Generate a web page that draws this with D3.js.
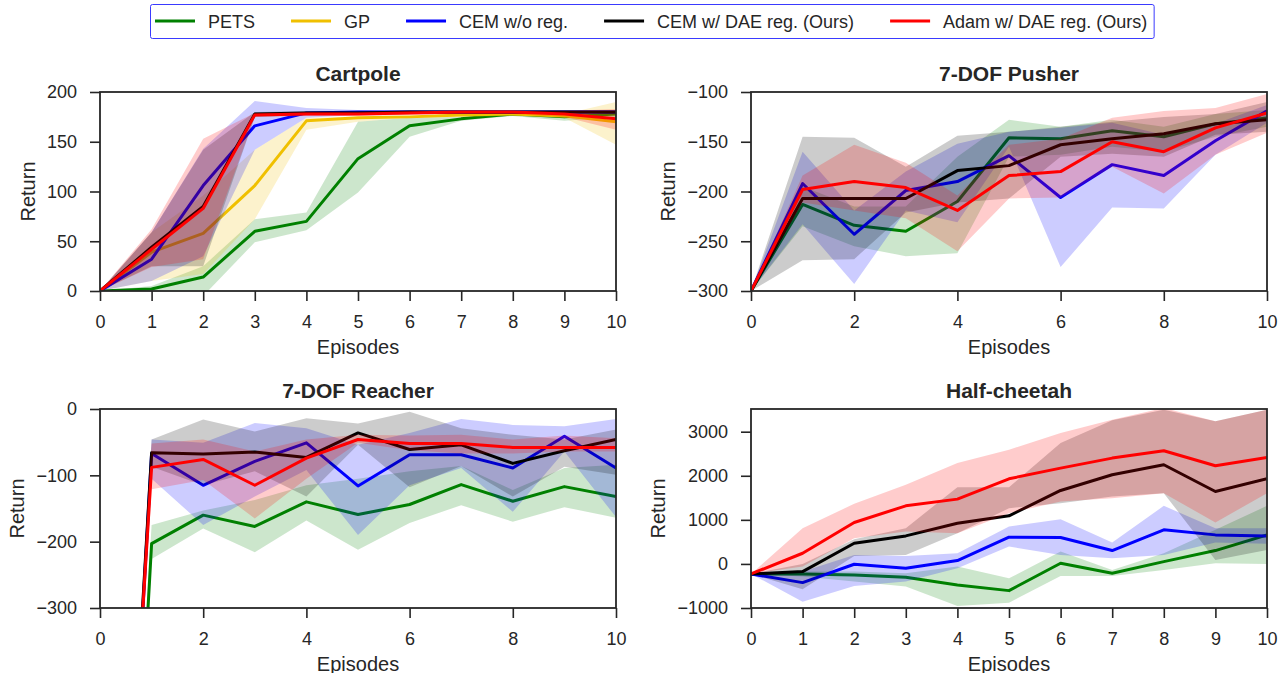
<!DOCTYPE html>
<html>
<head>
<meta charset="utf-8">
<title>Return per episode</title>
<style>
  body { margin: 0; background: #fff; }
  svg text { font-family: "Liberation Sans", Arial, sans-serif; fill: #262626; }
  .spine { fill: none; stroke: #262626; stroke-width: 1.8; }
  .axis path { display: none; }
  .axis line { stroke: #262626; stroke-width: 1.6; }
  .axis text { font-size: 18px; font-family: "Liberation Sans", Arial, sans-serif; fill: #262626; }
</style>
</head>
<body>
<script src="https://d3js.org/d3.v7.min.js"></script>
<script>
// ---- data ----
var episodes = [0, 1, 2, 3, 4, 5, 6, 7, 8, 9, 10];
var methods = ["PETS", "GP", "CEM w/o reg.", "CEM w/ DAE reg. (Ours)", "Adam w/ DAE reg. (Ours)"];
var colors = ["#008000", "#f0c000", "#0000ff", "#000000", "#ff0000"];

var xTicksAll = [0, 1, 2, 3, 4, 5, 6, 7, 8, 9, 10];
var xTicksEven = [0, 2, 4, 6, 8, 10];

// Cartpole (rows follow methods order)
var cartpoleYTicks = [0, 50, 100, 150, 200];
var cartpoleMean = [
  [0, 2, 14, 60, 70, 133, 166, 173, 178, 175, 178],
  [0, 39, 58, 106, 171, 174, 175, 177, 178, 176, 170],
  [0, 32, 106, 166, 179, 180, 180, 180, 180, 180, 180],
  [0, 44, 85, 178, 179, 179, 180, 180, 180, 180, 180],
  [0, 42, 83, 177, 178, 178, 179, 180, 180, 178, 173]
];
var cartpoleLow = [
  [0, -5, -5, 49, 61, 99, 155, 171, 176, 171, 175],
  [0, 10, 17, 72, 162, 170, 174, 175, 176, 174, 147],
  [0, 10, 35, 142, 174, 177, 178, 178, 178, 178, 178],
  [0, 25, 25, 175, 177, 177, 178, 178, 178, 178, 178],
  [0, 24, 32, 175, 176, 176, 177, 178, 178, 175, 162]
];
var cartpoleHigh = [
  [0, 5, 25, 72, 79, 170, 174, 175, 179, 179, 179],
  [0, 59, 96, 142, 174, 175, 176, 178, 179, 178, 190],
  [0, 59, 143, 191, 184, 182, 182, 182, 182, 182, 182],
  [0, 59, 142, 180, 181, 181, 181, 181, 181, 181, 181],
  [0, 62, 153, 179, 180, 180, 181, 181, 181, 181, 183]
];

// 7-DOF Pusher
var pusherYTicks = [-300, -250, -200, -150, -100];
var pusherMean = [
  [-300, -213, -234, -240, -210, -146, -147, -139, -145, -132, -126],
  null,
  [-300, -192, -243, -199, -190, -164, -206, -173, -184, -149, -119],
  [-300, -207, -207, -207, -179, -174, -153, -147, -142, -132, -128],
  [-300, -198, -190, -196, -219, -184, -180, -150, -160, -136, -121]
];
var pusherLow = [
  [-300, -235, -255, -265, -262, -165, -163, -155, -160, -145, -135],
  null,
  [-300, -233, -293, -219, -231, -155, -276, -216, -217, -163, -131],
  [-300, -269, -268, -221, -211, -207, -165, -162, -165, -143, -140],
  [-300, -211, -219, -227, -260, -207, -206, -175, -202, -163, -141]
];
var pusherHigh = [
  [-300, -195, -215, -215, -165, -128, -135, -128, -135, -122, -118],
  null,
  [-300, -160, -219, -180, -152, -140, -136, -131, -143, -132, -113],
  [-300, -145, -146, -175, -144, -140, -135, -130, -125, -122, -110],
  [-300, -184, -153, -171, -204, -153, -147, -126, -119, -116, -102]
];

// 7-DOF Reacher
var reacherYTicks = [-300, -200, -100, 0];
var reacherMean = [
  [-1600, -203, -160, -177, -140, -159, -144, -114, -139, -117, -132],
  null,
  [-1450, -67, -115, -79, -51, -116, -69, -69, -89, -41, -89],
  [-1400, -66, -68, -65, -73, -36, -61, -54, -82, -63, -46],
  [-1350, -88, -76, -115, -74, -46, -52, -52, -58, -58, -58]
];
var reacherLow = [
  [-1700, -226, -180, -216, -168, -212, -172, -145, -170, -148, -164],
  null,
  [-1550, -105, -175, -132, -92, -190, -115, -89, -155, -64, -163],
  [-1500, -87, -115, -94, -132, -54, -118, -86, -132, -87, -99],
  [-1450, -121, -107, -165, -105, -51, -62, -67, -67, -64, -64]
];
var reacherHigh = [
  [-1500, -175, -153, -137, -115, -105, -94, -86, -122, -89, -84],
  null,
  [-1350, -46, -51, -21, -29, -54, -36, -15, -24, -26, -15],
  [-1300, -46, -16, -34, -14, -22, -4, -29, -39, -46, -31],
  [-1250, -52, -46, -64, -46, -39, -40, -39, -46, -40, -44]
];

// Half-cheetah
var cheetahYTicks = [-1000, 0, 1000, 2000, 3000];
var cheetahMean = [
  [-227, -227, -250, -303, -477, -606, 15, -212, 53, 303, 659],
  null,
  [-227, -424, -8, -98, 76, 606, 598, 303, 773, 659, 636],
  [-227, -174, 470, 636, 924, 1091, 1667, 2023, 2250, 1644, 1932],
  [-227, 242, 939, 1318, 1470, 1932, 2174, 2401, 2568, 2227, 2417]
];
var cheetahLow = [
  [-227, -288, -400, -515, -955, -879, -273, -273, -136, 15, 0],
  null,
  [-227, -856, -500, -401, -98, 394, 205, 129, 205, 485, 455],
  [-227, -576, 182, 205, 697, 1265, 1379, 1530, 1606, 91, 318],
  [-227, -61, 583, 735, 697, 1152, 1417, 1492, 1606, 939, 1606]
];
var cheetahHigh = [
  [-227, -174, -174, -212, -61, -326, 280, -136, 242, 773, 1318],
  null,
  [-227, -174, 205, 182, 242, 848, 1015, 485, 1318, 811, 811],
  [-227, 0, 561, 811, 1742, 1742, 2742, 3258, 3500, 3235, 3500],
  [-227, 811, 1364, 1795, 2288, 2591, 2970, 3273, 3538, 3235, 3500]
];

// ---- layout ----
var W = 1281, H = 673;
var pw = 516, ph = 199;

var panels = [
  {title: "Cartpole", mean: cartpoleMean, low: cartpoleLow, high: cartpoleHigh,
   yDomain: [0, 200], yTicks: cartpoleYTicks, xTicks: xTicksAll, left: 100, top: 92},
  {title: "7-DOF Pusher", mean: pusherMean, low: pusherLow, high: pusherHigh,
   yDomain: [-300, -100], yTicks: pusherYTicks, xTicks: xTicksEven, left: 751, top: 92},
  {title: "7-DOF Reacher", mean: reacherMean, low: reacherLow, high: reacherHigh,
   yDomain: [-300, 0], yTicks: reacherYTicks, xTicks: xTicksEven, left: 100, top: 409},
  {title: "Half-cheetah", mean: cheetahMean, low: cheetahLow, high: cheetahHigh,
   yDomain: [-1000, 3515], yTicks: cheetahYTicks, xTicks: xTicksAll, left: 751, top: 409}
];

var svg = d3.select("body")
  .append("svg")
  .attr("width", W)
  .attr("height", H);

panels.forEach(function(p, pi) {
  var g = svg.append("g")
    .attr("transform", "translate(" + p.left + "," + p.top + ")");

  var x = d3.scaleLinear().domain([0, 10]).range([0, pw]);
  var y = d3.scaleLinear().domain(p.yDomain).range([ph, 0]);

  g.append("clipPath")
    .attr("id", "clip" + pi)
    .append("rect")
    .attr("width", pw)
    .attr("height", ph);

  var plot = g.append("g").attr("clip-path", "url(#clip" + pi + ")");

  methods.forEach(function(m, mi) {
    if (!p.mean[mi]) return;
    var lo = p.low[mi], hi = p.high[mi], mu = p.mean[mi];

    var area = d3.area()
      .x(function(d) { return x(d); })
      .y0(function(d, i) { return y(lo[i]); })
      .y1(function(d, i) { return y(hi[i]); });

    var line = d3.line()
      .x(function(d) { return x(d); })
      .y(function(d, i) { return y(mu[i]); });

    plot.append("path")
      .attr("d", area(episodes))
      .attr("fill", colors[mi])
      .attr("fill-opacity", 0.2)
      .attr("stroke", "none");

    plot.append("path")
      .attr("d", line(episodes))
      .attr("fill", "none")
      .attr("stroke", colors[mi])
      .attr("stroke-width", 3)
      .attr("stroke-linejoin", "round");
  });

  // axes
  g.append("g")
    .attr("class", "axis")
    .attr("transform", "translate(0," + ph + ")")
    .call(d3.axisBottom(x).tickValues(p.xTicks).tickSize(10).tickPadding(14).tickFormat(d3.format("d")));

  var yAxis = g.append("g")
    .attr("class", "axis")
    .call(d3.axisLeft(y).tickValues(p.yTicks).tickSize(10).tickPadding(13).tickFormat(d3.format("d")));

  // spines
  g.append("rect")
    .attr("class", "spine")
    .attr("width", pw)
    .attr("height", ph);

  // widest y tick label decides where "Return" goes
  var maxW = 0;
  yAxis.selectAll("text").each(function() {
    maxW = Math.max(maxW, this.getComputedTextLength());
  });

  g.append("text")
    .attr("transform", "translate(" + (-23 - maxW - 12) + "," + (ph / 2) + ") rotate(-90)")
    .attr("text-anchor", "middle")
    .style("font-size", "20px")
    .text("Return");

  g.append("text")
    .attr("x", pw / 2)
    .attr("y", ph + 63)
    .attr("text-anchor", "middle")
    .style("font-size", "20px")
    .text("Episodes");

  g.append("text")
    .attr("x", pw / 2)
    .attr("y", -11)
    .attr("text-anchor", "middle")
    .style("font-size", "21px")
    .style("font-weight", "bold")
    .text(p.title);
});

// legend
var legend = svg.append("g");
var legendBox = legend.append("rect")
  .attr("x", 150.5)
  .attr("y", 4.5)
  .attr("height", 34)
  .attr("rx", 2)
  .attr("fill", "#fff")
  .attr("stroke", "#3a3aff")
  .attr("stroke-width", 1);

var lx = 155;
methods.forEach(function(m, mi) {
  legend.append("line")
    .attr("x1", lx).attr("x2", lx + 40)
    .attr("y1", 21).attr("y2", 21)
    .attr("stroke", colors[mi])
    .attr("stroke-width", 3);
  var t = legend.append("text")
    .attr("x", lx + 53)
    .attr("y", 27.5)
    .style("font-size", "18px")
    .text(m);
  lx += 53 + t.node().getComputedTextLength() + 36;
});
legendBox.attr("width", lx - 36 + 7 - 150.5);
</script>
</body>
</html>
